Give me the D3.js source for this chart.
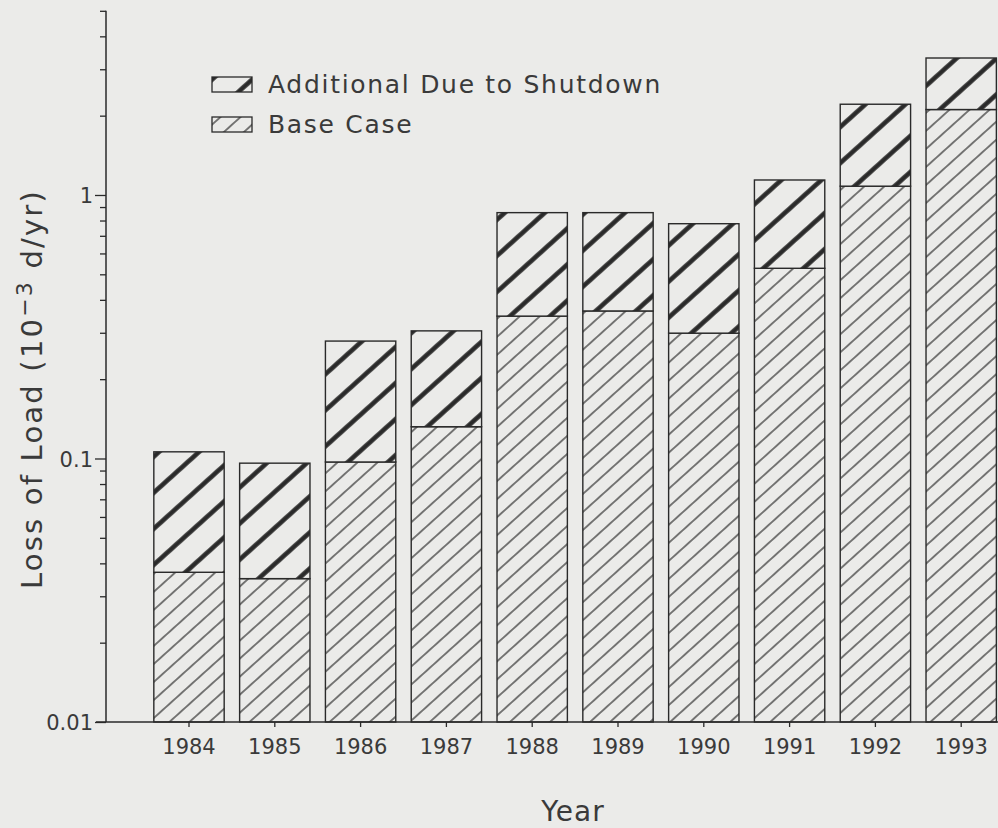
<!DOCTYPE html>
<html>
<head>
<meta charset="utf-8">
<script src="https://cdn.jsdelivr.net/npm/d3@7"></script>
<style>
  body { margin: 0; background: #ebebe9; }
  svg { display: block; }
  text { font-family: "DejaVu Sans", sans-serif; fill: #3a3a3a; }
</style>
</head>
<body>
<svg id="canvas" width="998" height="828"></svg>
<script>
// Data
let years = ['1984', '1985', '1986', '1987', '1988', '1989', '1990', '1991', '1992', '1993']
let baseCase = [0.037, 0.035, 0.097, 0.132, 0.347, 0.363, 0.299, 0.527, 1.08, 2.11]
let additional = [0.069, 0.061, 0.182, 0.173, 0.51, 0.494, 0.479, 0.613, 1.13, 1.20]
let legendLabels = ['Additional Due to Shutdown', 'Base Case']
let yLabels = [0.01, 0.1, 1]

let canvas = d3.select('#canvas')
let ink = '#2a2a2a'

var x = d3.scaleBand().domain(years).range([146.1, 1004.1]).paddingInner(0.18).paddingOuter(0.09)
var y = d3.scaleLog().domain([0.01, 5]).range([722, 10.8])

// hatch patterns (thin for base case, heavy for the shutdown part)
// vertical stripe rotated so the lines run up-right at ~42 degrees
let defs = canvas.append('defs')
let makeHatch = (id, gap, sw) => {
    let p = defs.append('pattern').attr('id', id)
        .attr('patternUnits', 'userSpaceOnUse')
        .attr('width', gap).attr('height', 10)
        .attr('patternTransform', 'rotate(48)')
    p.append('rect').attr('width', gap).attr('height', 10).attr('fill', '#ebebe9')
    p.append('line')
        .attr('x1', gap / 2).attr('y1', -1)
        .attr('x2', gap / 2).attr('y2', 11)
        .attr('stroke', ink).attr('stroke-width', sw)
}
makeHatch('thin', 13.4, 1.2)
makeHatch('thick', 26.8, 4.6)

let rows = years.map((yr, i) => ({ year: yr, base: baseCase[i], total: baseCase[i] + additional[i] }))

let drawBars = () => {
    let g = canvas.append('g')
    // base case part
    g.selectAll('rect.base')
        .data(rows)
        .enter()
        .append('rect')
        .attr('class', 'base')
        .attr('x', d => x(d.year))
        .attr('width', x.bandwidth())
        .attr('y', d => y(d.base))
        .attr('height', d => y(0.01) - y(d.base))
        .attr('fill', 'url(#thin)')
        .style('stroke', ink)
        .style('stroke-width', '1.4px')
    // additional part stacked on top
    g.selectAll('rect.add')
        .data(rows)
        .enter()
        .append('rect')
        .attr('class', 'add')
        .attr('x', d => x(d.year))
        .attr('width', x.bandwidth())
        .attr('y', d => y(d.total))
        .attr('height', d => y(d.base) - y(d.total))
        .attr('fill', 'url(#thick)')
        .style('stroke', ink)
        .style('stroke-width', '1.4px')
}

let drawAxes = () => {
    // y axis: major ticks at decades, minor ticks in between
    let yAxis = d3.axisLeft(y)
        .tickValues(y.ticks())
        .tickSize(6)
        .tickFormat(d => yLabels.includes(+d.toPrecision(3)) ? d3.format('~g')(d) : '')
    let ya = canvas.append('g').attr('transform', 'translate(106,0)').call(yAxis)
    ya.select('.domain').attr('d', 'M0,' + y(5) + 'V' + y(0.01))
    ya.selectAll('.tick line')
        .attr('x2', d => yLabels.includes(+d.toPrecision(3)) ? -11 : -6)
    ya.selectAll('.tick text').attr('x', -13).attr('dy', '0.36em')

    // x axis
    let xAxis = d3.axisBottom(x).tickSize(5).tickPadding(12).tickSizeOuter(0)
    let xa = canvas.append('g').attr('transform', 'translate(0,722)').call(xAxis)
    xa.select('.domain').attr('d', 'M96,0H998')

    canvas.selectAll('.domain').attr('stroke', ink).attr('stroke-width', 1.5)
    canvas.selectAll('.tick line').attr('stroke', ink).attr('stroke-width', 1.3)
    canvas.selectAll('.tick text').style('font-size', '21px').attr('fill', '#3a3a3a')
        .style('font-family', '"DejaVu Sans", sans-serif')

    // axis titles
    canvas.append('text')
        .attr('x', 573).attr('y', 821)
        .attr('text-anchor', 'middle')
        .style('font-size', '28px')
        .style('letter-spacing', '1px')
        .text('Year')

    let yt = canvas.append('text')
        .attr('transform', 'translate(42,389) rotate(-90)')
        .attr('text-anchor', 'middle')
        .style('font-size', '29px')
        .style('letter-spacing', '2.2px')
    yt.append('tspan').text('Loss of Load (10')
    yt.append('tspan').attr('dy', -10).style('font-size', '22px').text('\u22123')
    yt.append('tspan').attr('dy', 10).text(' d/yr)')
}

let drawLegend = () => {
    let lg = canvas.append('g')
    let fills = ['url(#thick)', 'url(#thin)']
    legendLabels.forEach((label, i) => {
        lg.append('rect')
            .attr('x', 212).attr('y', 77 + i * 40)
            .attr('width', 40).attr('height', 15)
            .attr('fill', fills[i])
            .style('stroke', ink).style('stroke-width', '1.3px')
        lg.append('text')
            .attr('x', 268).attr('y', 93 + i * 40)
            .style('font-size', '25px')
            .style('letter-spacing', '1.7px')
            .text(label)
    })
}

drawBars()
drawAxes()
drawLegend()
</script>
</body>
</html>
